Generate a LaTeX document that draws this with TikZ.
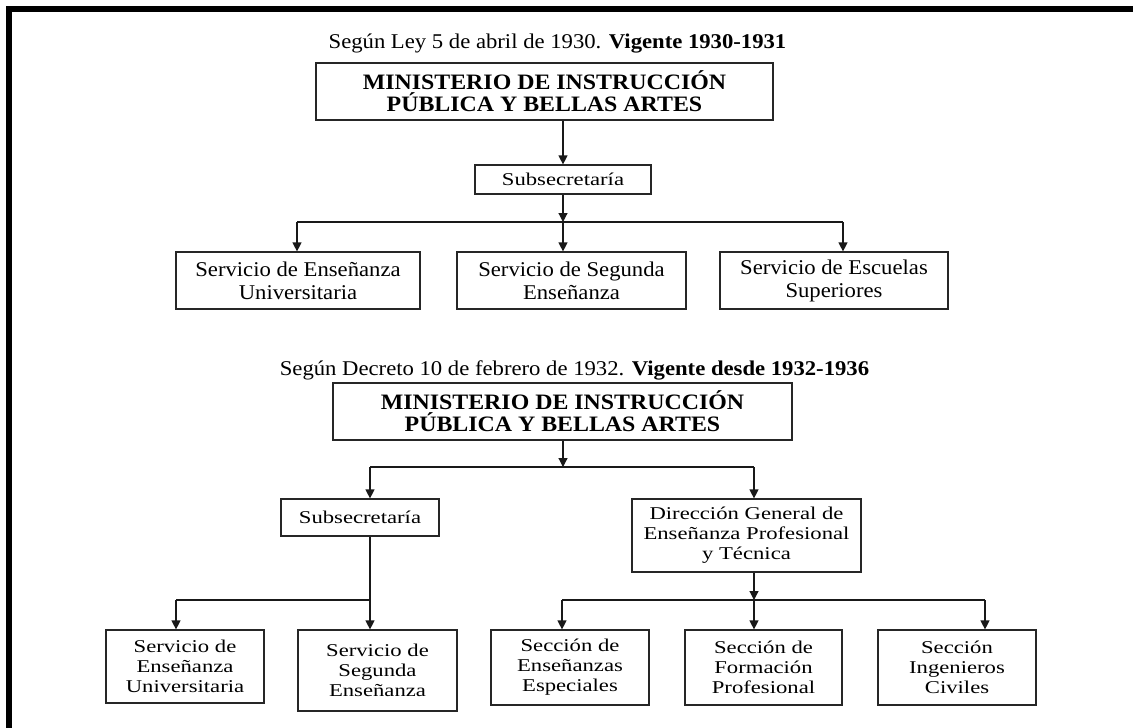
\documentclass[tikz,border=0pt]{standalone}
\usepackage{fontspec}
\setmainfont{Liberation Serif}
\newfontfamily\nf{Liberation Serif}[FakeStretch=1.08]
\newfontfamily\mf{Liberation Serif}[FakeStretch=1.085]
\newfontfamily\wf{Liberation Serif}[FakeStretch=1.26]
\usetikzlibrary{arrows.meta}
\begin{document}
\begin{tikzpicture}[x=1pt,y=-1pt,
  box/.style={draw=black!85, line width=1.2pt, inner sep=0pt, align=center, rectangle},
  narrowtxt/.style={font=\nf\fontsize{21}{23}\selectfont},
  mintxt/.style={font=\mf\bfseries\fontsize{22}{22}\selectfont},
  widetxt/.style={font=\wf\fontsize{18}{20}\selectfont},
  ln/.style={line width=1.2pt, draw=black!90},
  arr/.style={ln, -{Triangle[length=9pt,width=9pt]}}]
\useasboundingbox (0,0) rectangle (1133,728);
\fill[white] (0,0) rectangle (1133,728);
% frame
\fill[black] (6,6) rectangle (1133,12);
\fill[black] (6,6) rectangle (12,728);

% ---------- upper chart ----------
\node[narrowtxt, inner sep=0pt] (t1) at (557.5,44) {Según Ley 5 de abril de 1930. \textbf{Vigente 1930-1931}};
\node[box, mintxt, minimum width=457pt, minimum height=57pt] (m1) at (544.5,91.5)
  {MINISTERIO DE INSTRUCCIÓN\\PÚBLICA Y BELLAS ARTES};
\node[box, widetxt, minimum width=176pt, minimum height=29pt] (s1) at (563,179.5) {Subsecretaría};
\node[box, narrowtxt, minimum width=244pt, minimum height=57pt] (b1) at (298,280.5)
  {Servicio de Enseñanza\\Universitaria};
\node[box, narrowtxt, minimum width=229pt, minimum height=57pt] (b2) at (571.5,280.5)
  {Servicio de Segunda\\Enseñanza};
\node[box, narrowtxt, minimum width=228pt, minimum height=57pt] (b3) at (834,280.5)
  {Servicio de Escuelas\\Superiores};

\coordinate (ja) at (297,222);
\coordinate (jb) at (563,222);
\coordinate (jc) at (843,222);
\draw[arr] (s1.north |- m1.south) -- (s1.north);
\draw[arr] (s1.south) -- (jb);
\draw[ln] (ja) -- (jc);
\draw[arr] (ja) -- (ja |- b1.north);
\draw[arr] (jb) -- (jb |- b2.north);
\draw[arr] (jc) -- (jc |- b3.north);

% ---------- lower chart ----------
\node[narrowtxt, inner sep=0pt] (t2) at (574.5,370) {Según Decreto 10 de febrero de 1932. \textbf{Vigente desde 1932-1936}};
\node[box, mintxt, minimum width=459pt, minimum height=57pt] (m2) at (562.5,411.5)
  {MINISTERIO DE INSTRUCCIÓN\\PÚBLICA Y BELLAS ARTES};
\node[box, widetxt, minimum width=158pt, minimum height=37pt] (s2) at (360,517.5) {Subsecretaría};
\node[box, widetxt, minimum width=229pt, minimum height=73pt] (d2) at (746.5,535.5)
  {Dirección General de\\Enseñanza Profesional\\y Técnica};
\node[box, widetxt, minimum width=158pt, minimum height=73pt] (c1) at (185,666.5)
  {Servicio de\\Enseñanza\\Universitaria};
\node[box, widetxt, minimum width=159pt, minimum height=81pt] (c2) at (377.5,670.5)
  {Servicio de\\Segunda\\Enseñanza};
\node[box, widetxt, minimum width=158pt, minimum height=75pt] (c3) at (570,667.5)
  {Sección de\\Enseñanzas\\Especiales};
\node[box, widetxt, minimum width=157pt, minimum height=75pt] (c4) at (763.5,667.5)
  {Sección de\\Formación\\Profesional};
\node[box, widetxt, minimum width=158pt, minimum height=75pt] (c5) at (957,667.5)
  {Sección\\Ingenieros\\Civiles};

\coordinate (ka) at (370,467);
\coordinate (kb) at (563,467);
\coordinate (kc) at (754,467);
\draw[arr] (kb |- m2.south) -- (kb);
\draw[ln] (ka) -- (kc);
\draw[arr] (ka) -- (ka |- s2.north);
\draw[arr] (kc) -- (kc |- d2.north);

\coordinate (la) at (176,600);
\coordinate (lb) at (370,600);
\draw[ln] (la) -- (lb);
\draw[arr] (lb |- s2.south) -- (lb |- c2.north);
\draw[arr] (la) -- (la |- c1.north);

\coordinate (pa) at (562,600);
\coordinate (pb) at (754,600);
\coordinate (pc) at (985,600);
\draw[arr] (pb |- d2.south) -- (pb);
\draw[ln] (pa) -- (pc);
\draw[arr] (pa) -- (pa |- c3.north);
\draw[arr] (pb) -- (pb |- c4.north);
\draw[arr] (pc) -- (pc |- c5.north);
\end{tikzpicture}
\end{document}
